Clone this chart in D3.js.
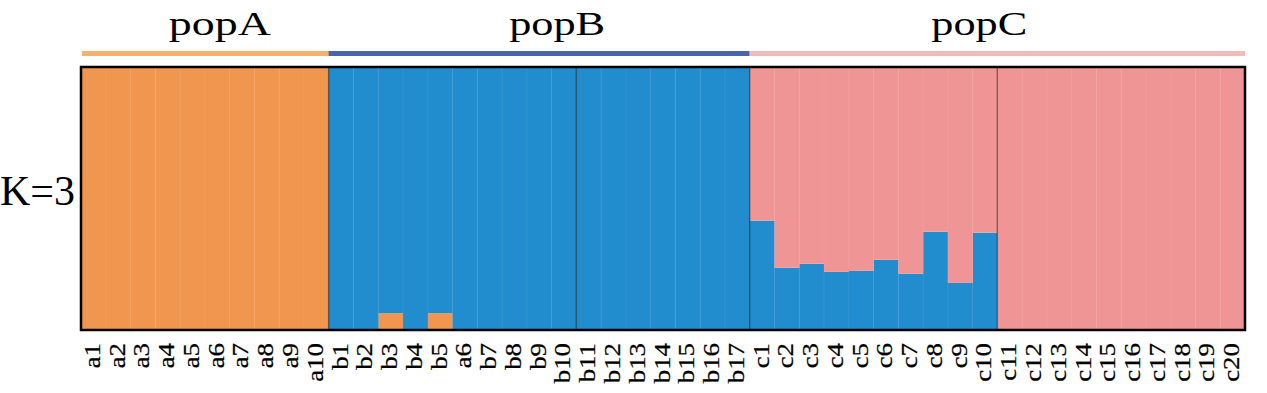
<!DOCTYPE html>
<html>
<head>
<meta charset="utf-8">
<script src="https://cdn.jsdelivr.net/npm/d3@7"></script>
<style>
  body { margin: 0; background: #fff; }
  svg text { font-family: "Liberation Serif", "Times New Roman", serif; fill: #000; }
</style>
</head>
<body>
<svg id="chart" width="1267" height="393"></svg>
<script>
// individuals, in plotting order
const samples = [
  'a1','a2','a3','a4','a5','a6','a7','a8','a9','a10',
  'b1','b2','b3','b4','b5','a6','b7','b8','b9','b10',
  'b11','b12','b13','b14','b15','b16','b17',
  'c1','c2','c3','c4','c5','c6','c7','c8','c9','c10',
  'c11','c12','c13','c14','c15','c16','c17','c18','c19','c20'
];
const pops = ['popA', 'popB', 'popC'];
const popSizes = [10, 17, 20];
// sub-group boundaries (index of last individual in a block)
const blockEnds = [9, 19, 26, 36];

// membership coefficients, K=3
const qOrange = [
  1,1,1,1,1,1,1,1,1,1,
  0,0,0.064,0,0.064,0,0,0,0,0,
  0,0,0,0,0,0,0,
  0,0,0,0,0,0,0,0,0,0,
  0,0,0,0,0,0,0,0,0,0
];
const qBlue = [
  0,0,0,0,0,0,0,0,0,0,
  1,1,0.936,1,0.936,1,1,1,1,1,
  1,1,1,1,1,1,1,
  0.416,0.237,0.252,0.221,0.225,0.267,0.214,0.374,0.179,0.370,
  0,0,0,0,0,0.004,0,0,0,0
];
const qPink = [
  0,0,0,0,0,0,0,0,0,0,
  0,0,0,0,0,0,0,0,0,0,
  0,0,0,0,0,0,0,
  0.584,0.763,0.748,0.779,0.775,0.733,0.786,0.626,0.821,0.630,
  1,1,1,1,1,0.996,1,1,1,1
];

const clusterColors = { orange: '#f0964f', blue: '#228dce', pink: '#f09595' };
const popBarColors = ['#f2b071', '#4a66aa', '#f3baba'];

const svg = d3.select('#chart');
const margin = { left: 81, right: 22, top: 67, bottom: 64 };
const W = 1267, H = 393;
const plotBottom = H - margin.bottom;

const x = d3.scaleBand()
  .domain(d3.range(samples.length))
  .range([margin.left, W - margin.right])
  .padding(0);

const y = d3.scaleLinear()
  .domain([0, 1])
  .range([plotBottom + 1, margin.top]);

const rows = samples.map((s, i) => ({ i: i, orange: qOrange[i], blue: qBlue[i], pink: qPink[i] }));
const stack = d3.stack().keys(['orange', 'blue', 'pink']);
const series = stack(rows);

const g = svg.append('g');
g.selectAll('g.layer')
  .data(series)
  .enter().append('g')
  .attr('class', 'layer')
  .attr('fill', d => clusterColors[d.key])
  .selectAll('rect')
  .data(d => d)
  .enter().append('rect')
  .attr('x', d => x(d.data.i))
  .attr('width', x.bandwidth() + 0.3)
  .attr('y', d => y(d[1]))
  .attr('height', d => Math.max(0, y(d[0]) - y(d[1])));

// faint separators between individuals
g.selectAll('line.sep')
  .data(d3.range(1, samples.length))
  .enter().append('line')
  .attr('class', 'sep')
  .attr('x1', i => x(i)).attr('x2', i => x(i))
  .attr('y1', margin.top).attr('y2', plotBottom)
  .attr('stroke', '#fff')
  .attr('stroke-opacity', 0.07)
  .attr('stroke-width', 1);

// darker block dividers
g.selectAll('line.block')
  .data(blockEnds)
  .enter().append('line')
  .attr('class', 'block')
  .attr('x1', i => x(i) + x.bandwidth()).attr('x2', i => x(i) + x.bandwidth())
  .attr('y1', margin.top).attr('y2', plotBottom)
  .attr('stroke', '#000')
  .attr('stroke-opacity', 0.45)
  .attr('stroke-width', 1.4);

// frame
svg.append('rect')
  .attr('x', margin.left)
  .attr('y', margin.top)
  .attr('width', W - margin.right - margin.left)
  .attr('height', plotBottom - margin.top + 1)
  .attr('fill', 'none')
  .attr('stroke', '#000')
  .attr('stroke-width', 2.5);

// population bars + names
const popStart = popSizes.map((n, k) => d3.sum(popSizes.slice(0, k)));
const titleNudge = [15, 18, -18];
pops.forEach((p, k) => {
  const x0 = x(popStart[k]);
  const x1 = x(popStart[k] + popSizes[k] - 1) + x.bandwidth();
  svg.append('rect')
    .attr('x', x0 + (k === 0 ? 1 : 0))
    .attr('y', 51)
    .attr('width', x1 - x0)
    .attr('height', 5)
    .attr('fill', popBarColors[k]);
  svg.append('text')
    .attr('x', (x0 + x1) / 2 + titleNudge[k])
    .attr('y', 35)
    .attr('text-anchor', 'middle')
    .attr('font-size', 33)
    .attr('textLength', p === 'popA' ? 102 : 96)
    .attr('lengthAdjust', 'spacingAndGlyphs')
    .text(p);
});

// K label
svg.append('text')
  .attr('x', 0)
  .attr('y', 205)
  .attr('font-size', 42)
  .text('K=3');

// individual labels
svg.selectAll('text.ind')
  .data(samples)
  .enter().append('text')
  .attr('class', 'ind')
  .attr('font-size', 24)
  .attr('text-anchor', 'end')
  .attr('stroke', '#000')
  .attr('stroke-width', 0.25)
  .attr('transform', (d, i) => `translate(${x(i) + x.bandwidth() / 2 + 6.5}, 343) rotate(-90) scale(1.12,1)`)
  .text(d => d);
</script>
</body>
</html>
